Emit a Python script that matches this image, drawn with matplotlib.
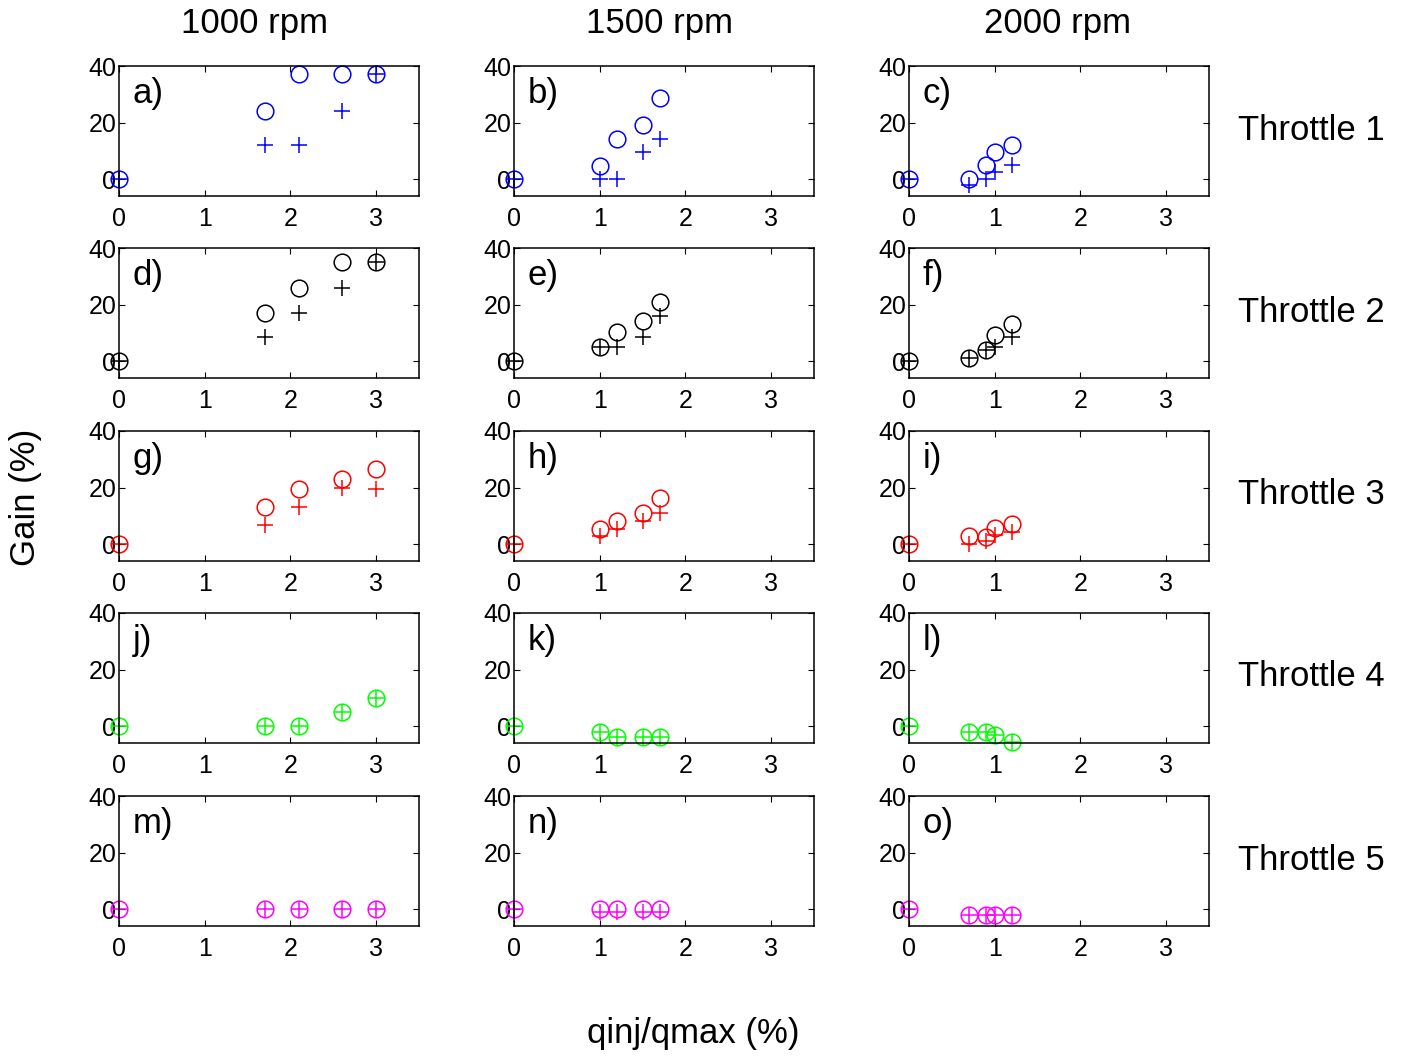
import matplotlib
matplotlib.use('Agg')
import matplotlib.pyplot as plt

plt.rcParams['font.family'] = ['Liberation Sans', 'DejaVu Sans']

### data: x positions per engine speed, gains per throttle
speeds = ['1000 rpm', '1500 rpm', '2000 rpm']
throttles = ['Throttle 1', 'Throttle 2', 'Throttle 3', 'Throttle 4', 'Throttle 5']
colors = ['blue', 'black', 'red', (0, 1, 0), 'magenta']
letters = 'abcdefghijklmno'

x_1000 = [0, 1.7, 2.1, 2.6, 3.0]
x_1500 = [0, 1.0, 1.2, 1.5, 1.7]
x_2000 = [0, 0.7, 0.9, 1.0, 1.2]

# circles (o)
circ_t1 = [[0, 24, 37, 37, 37], [0, 4.6, 14, 19, 28.6], [0, 0, 5, 9.5, 12]]
circ_t2 = [[0, 17, 26, 35, 35], [0, 5, 10.2, 14, 21], [0, 1, 3.9, 9.2, 13]]
circ_t3 = [[0, 13, 19.4, 23, 26.5], [0, 5.3, 8.2, 10.9, 16.3], [0, 2.8, 2.6, 5.7, 7.1]]
circ_t4 = [[0, 0, 0, 5, 10], [0, -2, -3.8, -4, -4], [0, -2.2, -2.2, -3.2, -5.5]]
circ_t5 = [[0, 0, 0, 0, 0], [0, 0, 0, 0, 0], [0, -2, -2, -2, -2]]

# plus (+)
plus_t1 = [[0, 12, 12, 24, 37], [0, 0, 0, 9.4, 14], [0, -2, 0, 2.5, 5]]
plus_t2 = [[0, 8.5, 17, 26, 35], [0, 5, 5, 8.5, 16], [0, 1, 3.9, 5, 8.5]]
plus_t3 = [[0, 6.7, 13, 20, 19.5], [0, 2.9, 5.3, 8.2, 10.9], [0, 0, 1, 3.1, 4.3]]
plus_t4 = [[0, 0, 0, 5, 10], [0, -2, -3.8, -4, -4], [0, -2.2, -2.2, -3.2, -5.5]]
plus_t5 = [[0, 0, 0, 0, 0], [0, -1, -1, -1, -1], [0, -2, -2, -2, -2]]

xs = [x_1000, x_1500, x_2000]
circ = [circ_t1, circ_t2, circ_t3, circ_t4, circ_t5]
plus = [plus_t1, plus_t2, plus_t3, plus_t4, plus_t5]

W, H = 1407, 1057
fig = plt.figure(figsize=(W / 100, H / 100), dpi=100)

lefts = [119, 514, 909]
tops = [66, 248, 431, 613, 796]
aw, ah = 300, 130
head_x = [255, 660, 1058]

for r in range(5):
    for c in range(3):
        ax = fig.add_axes([lefts[c] / W, 1 - (tops[r] + ah) / H, aw / W, ah / H])
        ax.plot(xs[c], circ[r][c], 'o', mfc='none', mec=colors[r], ms=12, mew=1.1, clip_on=False)
        ax.plot(xs[c], plus[r][c], '+', color=colors[r], ms=12, mew=1.1, clip_on=False)
        ax.set_xlim(0, 3.5)
        ax.set_ylim(-6, 40)
        ax.set_xticks([0, 1, 2, 3])
        ax.set_yticks([0, 20, 40])
        ax.tick_params(direction='in', top=True, right=True, labelsize=18, length=4, pad=2)
        ax.tick_params(axis='x', pad=8)
        for s in ax.spines.values():
            s.set_linewidth(1.1)
        ax.text(0.045, 0.79, letters[r * 3 + c] + ')', transform=ax.transAxes,
                fontsize=25, ha='left', va='center')

for c in range(3):
    fig.text(head_x[c] / W, 1 - 24 / H, speeds[c], fontsize=25,
             ha='center', va='center')
for r in range(5):
    fig.text(1238 / W, 1 - (tops[r] + 64) / H, throttles[r], fontsize=25,
             ha='left', va='center')

fig.text(25 / W, 1 - 497 / H, 'Gain (%)', fontsize=25, rotation=90, ha='center', va='center')
fig.text(693 / W, 1 - 1033 / H, 'qinj/qmax (%)', fontsize=25, ha='center', va='center')

fig.savefig('out.png', dpi=100)
